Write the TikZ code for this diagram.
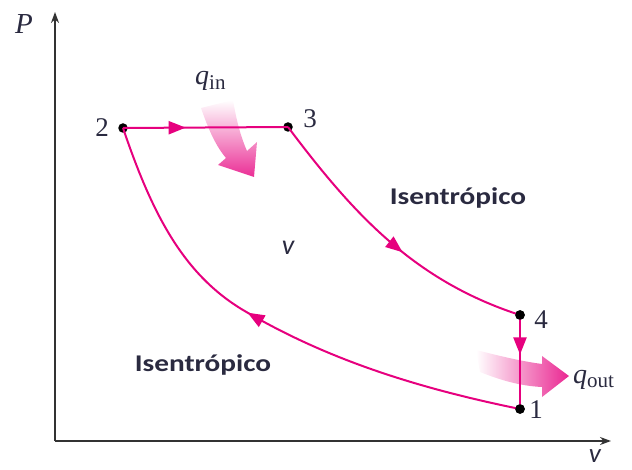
\documentclass[tikz,border=0pt]{standalone}
\usepackage{fontspec}
\setmainfont{Liberation Serif}
\newfontfamily\calib{Carlito}
\usetikzlibrary{arrows.meta,decorations.markings}
\definecolor{mag}{HTML}{E6007E}
\definecolor{txt}{HTML}{2A2A40}
\definecolor{axis}{HTML}{333333}
\tikzset{
  pinkline/.style={draw=mag,line width=2pt},
  axisline/.style={draw=axis,line width=2.4pt,-{Stealth[length=11pt,width=8pt]}},
  dot/.style={circle,fill=black,inner sep=0pt,minimum size=9.5pt},
  numlab/.style={inner sep=0pt,text=txt,font=\fontsize{27}{30}\selectfont},
  isolab/.style={inner sep=0pt,text=txt,font=\calib\bfseries\fontsize{24}{26}\selectfont},
  midarrow/.style={postaction={decorate,decoration={markings,
     mark=at position #1 with {\arrow{Triangle[length=17pt,width=13pt]}}}}},
}
\begin{document}
\begin{tikzpicture}[x=1pt,y=-1pt]
\useasboundingbox (0,0) rectangle (632,470);
% axes
\coordinate (o) at (55,441);
\coordinate (ytop) at (55,12);
\coordinate (xend) at (611,441);
\draw[axisline] (o) -- (ytop);
\draw[axisline] (o) -- (xend);
\node[inner sep=0pt,text=txt,font=\itshape\fontsize{29}{32}\selectfont] (P) at (24,24) {P};
\node[inner sep=0pt,text=txt,font=\calib\itshape\fontsize{27}{30}\selectfont,anchor=base] (vax) at (595,462) {v};
\node[inner sep=0pt,text=txt,font=\calib\itshape\fontsize{28}{30}\selectfont,anchor=base] (vmid) at (288,255) {v};
% state points
\node[dot] (p1) at (520,409) {};
\node[dot] (p2) at (123,128) {};
\node[dot] (p3) at (288,127) {};
\node[dot] (p4) at (520,315) {};
\coordinate (m12) at (243,310);
% heat in arrow
\shade[top color=white, bottom color=mag!82]
  (201,108) .. controls (208,128) and (215,145) .. (226,158)
  -- (218,165) -- (254,177) -- (257,142) -- (247,151)
  .. controls (240,135) and (236,118) .. (233,100) -- cycle;
% processes
\draw[pinkline,midarrow=0.38] (p2.center) -- (p3.center);
\draw[pinkline,midarrow=0.56] (p3.center) .. controls (354,215) and (415,281) .. (p4.center);
\draw[pinkline,midarrow=0.56] (p1.center) .. controls (422,389) and (329,361) .. (m12)
  .. controls (183,274) and (152,213.5) .. (p2.center);
% heat out arrow
\shade[left color=white, right color=mag!85]
  (476,350) .. controls (500,356) and (520,361) .. (542,364)
  -- (542,356) -- (569,376) -- (542,397) -- (542,387)
  .. controls (520,386) and (500,380) .. (480,372) -- cycle;
\draw[pinkline,midarrow=0.42] (p4.center) -- (p1.center);
\node[dot] at (p1) {};
\node[dot] at (p4) {};
% labels
\node[numlab] (l1) at (536,410) {1};
\node[numlab] (l2) at (102,128) {2};
\node[numlab] (l3) at (310,119) {3};
\node[numlab] (l4) at (541,320) {4};
\node[inner sep=0pt,text=txt,anchor=base west] (qin) at (195,85)
  {\fontsize{28}{30}\selectfont\itshape q\raisebox{-5pt}{\upshape\fontsize{21}{24}\selectfont in}};
\node[inner sep=0pt,text=txt,anchor=base west] (qout) at (573,384)
  {\fontsize{28}{30}\selectfont\itshape q\raisebox{-4pt}{\upshape\fontsize{21}{24}\selectfont out}};
\node[isolab,anchor=base] (iso1) at (458,205) {\scalebox{1.22}[1]{Isentrópico}};
\node[isolab,anchor=base] (iso2) at (203,371) {\scalebox{1.22}[1]{Isentrópico}};
\end{tikzpicture}
\end{document}
